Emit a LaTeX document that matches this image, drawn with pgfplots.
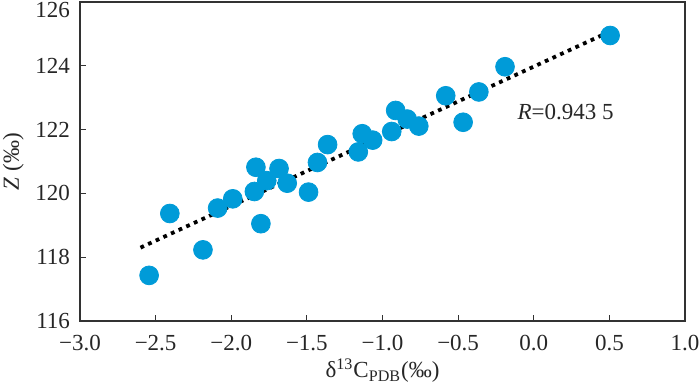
\documentclass[border=0pt]{standalone}
\usepackage{pgfplots}
\pgfplotsset{compat=1.18}
\usepackage{fontspec}
\setmainfont{Liberation Serif}
\definecolor{dotblue}{RGB}{0,155,216}
\definecolor{axgray}{RGB}{50,50,50}
\begin{document}
\fontsize{11.5}{13}\selectfont
\begin{tikzpicture}
\useasboundingbox (-40pt,-34pt) rectangle (310pt,160.5pt);
\begin{axis}[
  at={(0,0)}, anchor=south west,
  scale only axis,
  width=302.5pt, height=159.5pt,
  xmin=-3, xmax=1, ymin=116, ymax=126,
  xtick={-3,-2.5,-2,-1.5,-1,-0.5,0,0.5,1},
  xticklabels={−3.0,−2.5,−2.0,−1.5,−1.0,−0.5,0.0,0.5,1.0},
  ytick={116,118,120,122,124,126},
  yticklabels={116,118,120,122,124,\raisebox{-8pt}[0pt][0pt]{126}},
  tick align=inside,
  xtick pos=bottom, ytick pos=left,
  major tick length=3pt,
  axis line style={axgray, line width=0.6pt},
  every tick/.style={axgray, line width=0.6pt},
  tick label style={font=\fontsize{11.5}{13}\selectfont, text=black!85},
  xticklabel style={yshift=-3pt},
  yticklabel style={xshift=-1pt},
  xlabel={δ\textsuperscript{13}C\textsubscript{PDB}(‰)},
  ylabel={\textit{Z} (‰)},
  label style={font=\fontsize{11.5}{13}\selectfont, text=black!85},
  xlabel style={yshift=4pt},
  ylabel style={yshift=-2pt},
  clip=false,
]
\addplot[black, line width=1.9pt, dash pattern=on 1.9pt off 2.3pt] coordinates {(-2.6,118.3) (0.47,125.0)};
\addplot[only marks, mark=*, mark size=4.7pt, mark options={fill=dotblue, draw=none}, color=dotblue] coordinates {
(-2.543,117.43)
(-2.406,119.37)
(-2.187,118.23)
(-2.09,119.54)
(-1.99,119.83)
(-1.837,120.82)
(-1.847,120.06)
(-1.804,119.05)
(-1.765,120.40)
(-1.684,120.78)
(-1.63,120.32)
(-1.489,120.04)
(-1.43,120.97)
(-1.363,121.53)
(-1.16,121.30)
(-1.134,121.87)
(-1.065,121.67)
(-0.939,121.94)
(-0.913,122.60)
(-0.837,122.33)
(-0.76,122.11)
(-0.467,122.23)
(-0.582,123.06)
(-0.363,123.18)
(-0.19,123.97)
(0.505,124.95)
};
\node[anchor=west, text=black!85, font=\fontsize{11.5}{13}\selectfont] at (axis cs:-0.16,122.55) {\textit{R}=0.943 5};
\end{axis}
\end{tikzpicture}
\end{document}
